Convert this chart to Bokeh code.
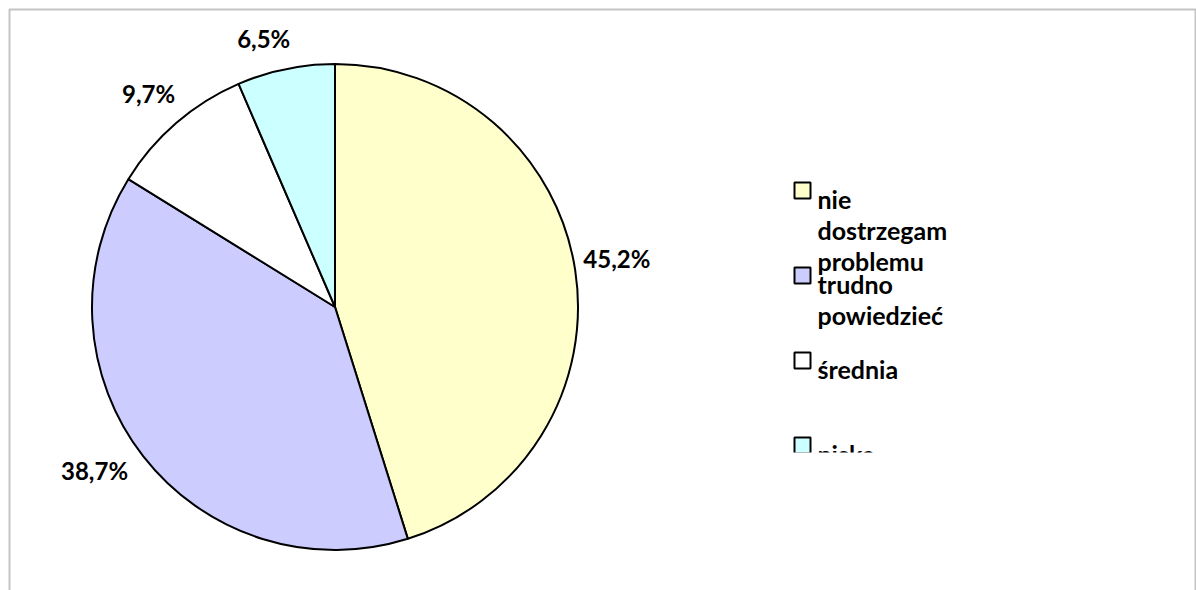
import math
from bokeh.plotting import figure
from bokeh.models import Range1d, ColumnDataSource
from bokeh.core.properties import value
from bokeh.embed import file_html
from bokeh.resources import INLINE

# ---- data ----
categories = ["nie dostrzegam problemu", "trudno powiedzieć", "średnia", "niska"]
shares = [45.2, 38.7, 9.7, 6.5]
colors = ["#FFFFCC", "#CCCCFF", "#FFFFFF", "#CCFFFF"]

# ---- layout (pixels; y measured upward from bottom of figure) ----
W, H = 1196, 590
CX, CY, R = 334.5, 283.5, 243
FONT = "Lato"
FS = 24
LABEL_GAP = 10
CHAR_W = 13
label_nudge = [(-1.5, 5.5), (-15.6, 11), (-5, 3), (-17, 6)]

p = figure(width=W, height=H, x_range=Range1d(0, W), y_range=Range1d(0, H),
           output_backend="svg", toolbar_location=None,
           x_axis_location=None, y_axis_location=None, min_border=0)
p.grid.visible = False
p.outline_line_color = None
p.background_fill_color = "white"
p.border_fill_color = "white"

total = sum(shares)
starts, ends = [], []
cum = 0.0
for s in shares:
    a0 = math.pi / 2 - 2 * math.pi * cum / total
    cum += s
    a1 = math.pi / 2 - 2 * math.pi * cum / total
    starts.append(a0)
    ends.append(a1)

src = ColumnDataSource(dict(start=starts, end=ends, color=colors, cat=categories))
p.wedge(x=CX, y=CY, radius=R, start_angle="start", end_angle="end",
        direction="clock", fill_color="color", line_color="black",
        line_width=2, source=src)

# percentage labels
lx, ly, lt = [], [], []
for s, a0, a1, (nx, ny) in zip(shares, starts, ends, label_nudge):
    mid = (a0 + a1) / 2
    dx, dy = math.cos(mid), math.sin(mid)
    txt = f"{s:.1f}".replace(".", ",") + "%"
    w = len(txt) * CHAR_W
    h = 20
    d = R + LABEL_GAP + abs(dx) * w / 2 + abs(dy) * h / 2
    lx.append(CX + d * dx + nx)
    ly.append(CY + d * dy + ny)
    lt.append(txt)
p.text(x=lx, y=ly, text=lt, text_font=value(FONT), text_font_style="bold",
       text_font_size=f"{FS}px", text_align="center", text_baseline="middle",
       text_color="black")

# legend (manual)
LEG_X, LEG_TOP, LEG_STEP, SQ = 794, 408, 85, 16
LINE_STEP = 31
sq_x, sq_y = [], []
tx, ty, tt = [], [], []
for i, cat in enumerate(categories):
    top = LEG_TOP - i * LEG_STEP
    sq_x.append(LEG_X + SQ / 2)
    sq_y.append(top - SQ / 2)
    for k, word in enumerate(cat.split(" ")):
        tx.append(LEG_X + SQ + 7)
        ty.append(top - SQ - k * LINE_STEP)
        tt.append(word)
p.rect(x=sq_x, y=sq_y, width=SQ, height=SQ, fill_color=colors,
       line_color="black", line_width=2)
p.text(x=tx, y=ty, text=tt, text_font=value(FONT), text_font_style="bold",
       text_font_size=f"{FS + 1}px", text_align="left", text_baseline="alphabetic",
       text_color="black")
# legend box clips its last entry
p.quad(left=[LEG_X - 6], right=[LEG_X + 200], bottom=[100], top=[138],
       fill_color="white", line_color=None)

# chart-area border (bottom edge lies outside the window)
p.line(x=[9, 9, W - 1, W - 1], y=[-5, H - 9, H - 9, -5], line_color="#c4c4c4",
       line_width=2)

open("out.html", "w").write(file_html(p, INLINE))
